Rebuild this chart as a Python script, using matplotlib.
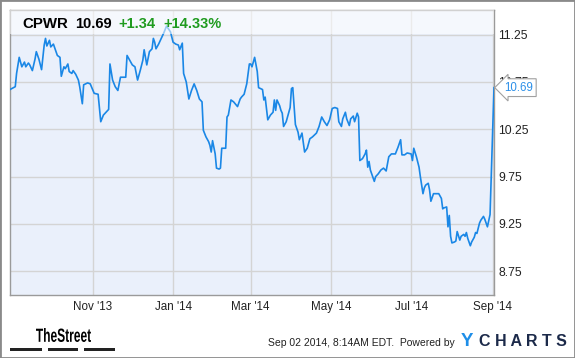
import pandas as pd
import matplotlib
matplotlib.use("Agg")
import matplotlib.pyplot as plt
import matplotlib.dates as mdates
from matplotlib.patches import Rectangle, PathPatch
from matplotlib.textpath import TextPath
from matplotlib.font_manager import FontProperties
from matplotlib.transforms import Affine2D

plt.rcParams['font.family'] = ['Liberation Sans', 'DejaVu Sans']

# CPWR daily closes (days counted from 2013-08-30)
start_date = pd.Timestamp('2013-08-30')
day_offsets = [
    0, 4, 5, 7, 9, 11, 12, 14, 15, 17, 19, 20, 22, 24, 26, 27, 28, 30, 31, 33,
    35, 36, 38, 39, 41, 42, 44, 45, 47, 48, 50, 52, 53, 55, 56, 59, 61,
    64, 67, 69, 71, 73, 75, 76, 78, 80, 82, 84, 86, 88, 89, 91, 93, 95, 97,
    99, 101, 102, 104, 106, 108, 109, 110, 111, 113, 115, 117, 119,
    122, 124, 126, 128, 129, 131, 132, 134, 136, 138, 140, 142, 144, 146, 147,
    149, 151, 152, 153, 154, 156, 157, 159, 160, 161, 164, 165, 166, 168, 170,
    173, 175, 176, 178, 180, 182, 183,
    184, 186, 188, 189, 192, 193, 194, 196, 198, 200, 201, 202, 203, 205, 206,
    207, 208, 210, 211, 213, 214, 215, 217, 219, 220, 222, 224, 226, 228, 230,
    233, 235, 237, 239, 241, 243, 245, 247, 249, 250, 252, 253, 255, 256, 258,
    259, 261, 262, 264, 265, 266, 268, 270, 271, 272, 273, 274, 276, 277, 278,
    280, 282, 284, 286, 288, 290, 293, 295, 297, 298, 300, 302, 305, 306, 307,
    309, 311, 312, 314, 315, 316, 318, 319, 320, 322, 324, 326, 328, 329, 330,
    332, 333, 334, 335, 336, 338, 339, 340, 342, 343, 345, 346, 347, 348, 350,
    351, 353, 354, 355, 357, 358, 360, 361, 363, 365, 368,
]
prices = [
    10.67, 10.70, 10.84, 11.01, 10.91, 10.96, 10.91, 10.95, 10.93, 10.87, 10.99, 11.07, 10.99, 10.88, 11.14, 11.21, 11.13, 11.19, 11.12, 11.15,
    11.07, 11.03, 11.01, 10.81, 10.91, 10.89, 10.94, 10.86, 10.84, 10.87, 10.83, 10.77, 10.70, 10.52, 10.72, 10.74, 10.73,
    10.63, 10.62, 10.33, 10.40, 10.43, 10.46, 10.94, 10.77, 10.70, 10.66, 10.80, 10.80, 10.80, 11.03, 10.98, 10.93, 10.91, 10.77,
    10.87, 10.98, 11.09, 10.93, 11.07, 11.10, 11.21, 11.17, 11.10, 11.15, 11.21, 11.27, 11.34,
    11.28, 11.17, 11.15, 11.14, 11.09, 11.16, 10.84, 10.75, 10.57, 10.66, 10.73, 10.66, 10.57, 10.54, 10.24,
    10.17, 10.12, 10.08, 10.01, 10.13, 9.99, 9.84, 9.83, 9.84, 10.05, 10.05, 10.38, 10.40, 10.56, 10.54,
    10.49, 10.57, 10.59, 10.62, 10.73, 10.94, 10.94,
    10.91, 11.01, 10.86, 10.69, 10.67, 10.56, 10.59, 10.35, 10.40, 10.43, 10.56, 10.45, 10.56, 10.50, 10.45,
    10.42, 10.28, 10.33, 10.38, 10.48, 10.68, 10.69, 10.30, 10.22, 10.14, 10.21, 10.01, 10.05, 10.15, 10.17,
    10.21, 10.28, 10.38, 10.33, 10.29, 10.35, 10.47, 10.48, 10.47, 10.33, 10.28, 10.36, 10.43, 10.36, 10.29,
    10.36, 10.39, 10.33, 10.42, 10.38, 9.92, 9.94, 9.99, 10.03, 9.85, 9.91, 9.82, 9.74, 9.70, 9.75,
    9.78, 9.82, 9.84, 9.81, 9.96, 9.99, 9.99, 10.06, 10.14, 9.98, 9.98, 10.00, 9.99, 9.92, 10.05,
    9.96, 9.85, 9.75, 9.57, 9.63, 9.66, 9.68, 9.61, 9.49, 9.57, 9.57, 9.57, 9.52, 9.41, 9.42,
    9.43, 9.22, 9.34, 9.12, 9.05, 9.06, 9.07, 9.17, 9.08, 9.12, 9.14, 9.12, 9.16, 9.10, 9.02,
    9.06, 9.11, 9.16, 9.15, 9.26, 9.29, 9.33, 9.30, 9.22, 9.35, 10.69,
]
y_ticks = [8.75, 9.25, 9.75, 10.25, 10.75, 11.25]
x_ticks = ['2013-11-01', '2014-01-01', '2014-03-01', '2014-05-01', '2014-07-01', '2014-09-01']
ticker = 'CPWR'
last_price = '10.69'
change = '+1.34'
change_pct = '+14.33%'

dates = start_date + pd.to_timedelta(day_offsets, unit='D')

W, H = 575, 358
fig = plt.figure(figsize=(W / 100, H / 100), dpi=100)
fig.patch.set_facecolor('white')

# plot area in pixels: x 10..494, y 10..295
ax = fig.add_axes([10 / W, 1 - 295 / H, 484 / W, 285 / H])
ax.set_facecolor('#eaf0fb')
ax.plot(dates, prices, color='#1a87e6', linewidth=1.2, zorder=3)
ax.set_xlim(dates[0], dates[-1])
ax.set_ylim(8.50, 11.51)

ax.set_yticks(y_ticks)
ax.set_xticks(pd.to_datetime(x_ticks))
ax.xaxis.set_major_formatter(mdates.DateFormatter("%b '%y"))
ax.yaxis.tick_right()
ax.tick_params(axis='y', length=0, pad=3, labelsize=8.8, labelcolor='#222222')
ax.tick_params(axis='x', length=0, pad=4, labelsize=8.4, labelcolor='#222222')
ax.grid(True, color='#d4d4d4', linewidth=1)
ax.set_axisbelow(True)
for s in ax.spines.values():
    s.set_color('#9a9a9a')
    s.set_linewidth(1)

# lighter header strip over the top of the plot
ax.add_patch(Rectangle((0, 1 - 24 / 285), 1, 24 / 285, transform=ax.transAxes,
                       facecolor='white', alpha=0.55, edgecolor='none', zorder=4))

# last value marker
ax.annotate(last_price, xy=(dates[-1], prices[-1]), xytext=(7.5, 0),
            textcoords='offset points', va='center', ha='left', fontsize=8.3,
            color='#2b8fe8', annotation_clip=False, zorder=6,
            bbox=dict(boxstyle='larrow,pad=0.25', facecolor='white',
                      edgecolor='#a0a0a0', linewidth=0.8))

def px(x, y):
    return x / W, 1 - y / H

fig.text(*px(22, 24), ticker, fontsize=10.8, fontweight='bold', va='center', color='black')
fig.text(*px(75, 24), last_price, fontsize=10.5, fontweight='bold', va='center', color='black')
fig.text(*px(118, 24), change, fontsize=10.5, fontweight='bold', va='center', color='#1f9b1f')
fig.text(*px(163, 24), change_pct, fontsize=10.5, fontweight='bold', va='center', color='#1f9b1f')

# footer: condensed "TheStreet" word mark drawn as a squeezed text path
tp = TextPath((0, 0), 'TheStreet', size=15,
              prop=FontProperties(family='Liberation Sans', weight='bold'))
bb = tp.get_extents()
sx = 55 / bb.width
sy = 14 / bb.height
tr = Affine2D().translate(-bb.x0, -bb.y0).scale(sx, sy).translate(36, H - 342)
fig.patches.append(PathPatch(tr.transform_path(tp), facecolor='black', edgecolor='none',
                             transform=None))
for x0, w0 in ((10, 32), (48, 30), (84, 31)):
    fig.patches.append(Rectangle(px(x0, 351), w0 / W, 3 / H, transform=fig.transFigure,
                                 facecolor='#222222', edgecolor='none'))
fig.text(*px(268, 343), 'Sep 02 2014, 8:14AM EDT.  Powered by', fontsize=7.5,
         va='center', color='#222222')
fig.text(*px(461, 342), 'Y', fontsize=13.5, fontweight='bold', va='center', color='#1e8ee8')
fig.text(*px(479, 342), 'C H A R T S', fontsize=11.5, fontweight='bold', va='center', color='#1c2a4a')

# outer frame
fig.patches.append(Rectangle((0, 0), 1, 1, transform=fig.transFigure, fill=False,
                             edgecolor='#8a8a8a', linewidth=2))

fig.savefig('out.png', dpi=100)
